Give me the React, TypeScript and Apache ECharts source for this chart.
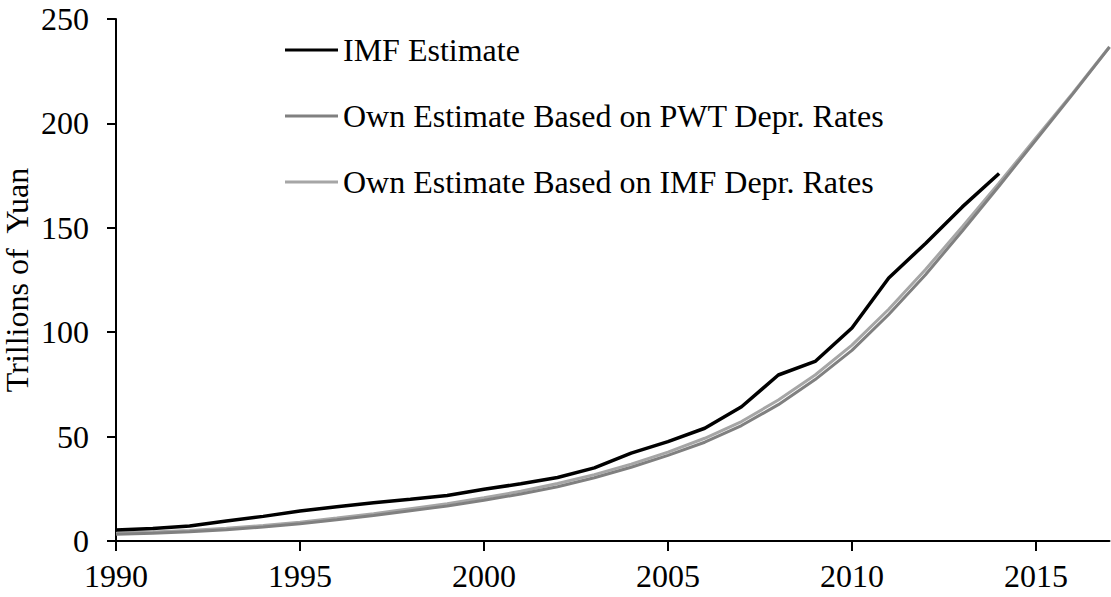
import React, { useEffect, useRef } from "react";
import * as echarts from "echarts";

const years = [1990, 1991, 1992, 1993, 1994, 1995, 1996, 1997, 1998, 1999, 2000, 2001, 2002, 2003, 2004, 2005, 2006, 2007, 2008, 2009, 2010, 2011, 2012, 2013, 2014, 2015, 2016, 2017];

const imfEstimate = [5.3, 6.0, 7.2, 9.6, 11.8, 14.4, 16.4, 18.3, 20.0, 21.8, 24.8, 27.4, 30.4, 35.0, 42.1, 47.6, 54.0, 64.3, 79.5, 86.0, 102.0, 126.0, 142.5, 160.0, 176.0];

const ownPWT = [3.2, 3.7, 4.4, 5.4, 6.7, 8.3, 10.2, 12.2, 14.5, 16.8, 19.5, 22.5, 26.0, 30.3, 35.3, 41.0, 47.3, 55.3, 65.3, 77.3, 91.3, 108.5, 127.5, 148.5, 170.0, 192.0, 214.0, 236.5];

const ownIMF = [3.8, 4.3, 5.0, 6.1, 7.4, 9.0, 11.0, 13.1, 15.5, 17.9, 20.7, 23.8, 27.5, 31.8, 36.8, 42.6, 49.2, 57.2, 67.5, 79.5, 93.8, 111.0, 130.0, 150.5, 171.5, 193.0, 214.5, 236.7];

const xTicks = [1990, 1995, 2000, 2005, 2010, 2015];
const seriesNames = ["IMF Estimate", "Own Estimate Based on PWT Depr. Rates", "Own Estimate Based on IMF Depr. Rates"];
const seriesColors = ["#000000", "#808080", "#a6a6a6"];

const FONT = "Liberation Serif";

export default function App() {
  const ref = useRef<HTMLDivElement>(null);
  useEffect(() => {
    if (!ref.current) return;
    const chart = echarts.init(ref.current, undefined, { renderer: "svg" });
    const mk = (vals: number[]) => vals.map((v, i) => [years[i], v]);
    const datasets = [imfEstimate, ownPWT, ownIMF];
    chart.setOption({
      animation: false,
      backgroundColor: "#ffffff",
      textStyle: { fontFamily: FONT },
      grid: { left: 116, right: 1.5, top: 19, bottom: 56, containLabel: false, outerBoundsMode: "none" },
      legend: {
        orient: "vertical",
        left: 285,
        top: 34,
        padding: 0,
        itemWidth: 53,
        itemHeight: 3,
        itemGap: 34,
        icon: "rect",
        data: seriesNames.map((n, i) => ({ name: n, itemStyle: { color: seriesColors[i] } })),
        textStyle: { fontFamily: FONT, fontSize: 32, color: "#000", lineHeight: 32, padding: [0, 0, 0, 0] },
      },
      xAxis: {
        type: "value",
        min: 1990,
        max: 2017,
        interval: 5,
        splitLine: { show: false },
        axisLine: { show: true, onZero: false, lineStyle: { color: "#000", width: 2 } },
        axisTick: { show: true, length: 10, customValues: xTicks, lineStyle: { color: "#000", width: 2 } },
        axisLabel: {
          customValues: xTicks,
          formatter: (v: number) => String(v),
          fontFamily: FONT,
          fontSize: 32,
          color: "#000",
          margin: 19,
        },
      },
      yAxis: {
        type: "value",
        min: 0,
        max: 250,
        interval: 50,
        name: "Trillions of  Yuan",
        nameLocation: "middle",
        nameGap: 83,
        nameMoveOverlap: false,
        nameTextStyle: { fontFamily: FONT, fontSize: 32, color: "#000", lineHeight: 32 },
        splitLine: { show: false },
        axisLine: { show: true, lineStyle: { color: "#000", width: 2 } },
        axisTick: { show: true, length: 9, lineStyle: { color: "#000", width: 2 } },
        axisLabel: { fontFamily: FONT, fontSize: 32, color: "#000", margin: 27 },
      },
      series: datasets.map((d, i) => ({
        name: seriesNames[i],
        type: "line",
        data: mk(d),
        showSymbol: false,
        symbol: "none",
        smooth: false,
        z: 3 - i,
        lineStyle: { color: seriesColors[i], width: i === 0 ? 3.5 : 3 },
        itemStyle: { color: seriesColors[i] },
      })),
    });
    return () => chart.dispose();
  }, []);
  return <div ref={ref} style={{ position: "fixed", left: 0, top: 0, width: 1111, height: 597 }} />;
}
